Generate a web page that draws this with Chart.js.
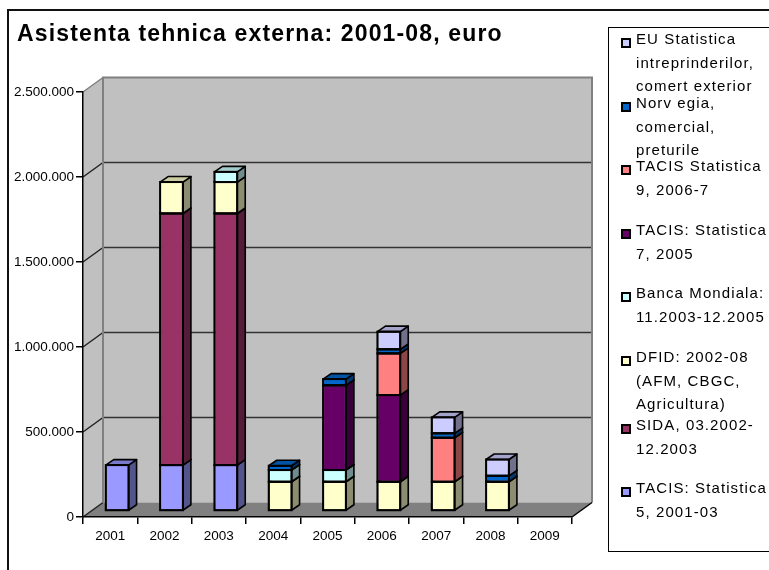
<!DOCTYPE html>
<html>
<head>
<meta charset="utf-8">
<script src="https://cdn.jsdelivr.net/npm/chart.js@4.4.1/dist/chart.umd.min.js"></script>
<style>
  html, body { margin: 0; padding: 0; background: #fff; }
  #wrap { position: relative; width: 769px; height: 570px; overflow: hidden; }
  canvas { position: absolute; left: 0; top: 0; }
  .title { position: absolute; left: 17px; top: 22px; font: bold 23px "Liberation Sans", Arial, sans-serif; line-height: 23px; letter-spacing: 1.15px; white-space: nowrap; color: #000; }
  .legend { position: absolute; left: 608px; top: 27px; width: 200px; height: 525px; border: 1px solid #000; box-sizing: border-box; }
  .entry { position: absolute; left: 636px; font: 15px "Liberation Sans", Arial, sans-serif; line-height: 23.5px; letter-spacing: 1.1px; white-space: nowrap; color: #000; }
  .mark { position: absolute; left: 621px; width: 10px; height: 10px; box-sizing: border-box; border: 2px solid #000; }
</style>
</head>
<body>
<div id="wrap">
  <canvas id="c" width="769" height="570"></canvas>
  <div class="title">Asistenta tehnica externa: 2001-08, euro</div>
  <div class="legend"></div>
  <div id="leg"></div>
</div>
<script>
// ---- data ----
const categories = ['2001', '2002', '2003', '2004', '2005', '2006', '2007', '2008', '2009'];
const tacis5  = [270000, 270000, 270000, null, null, null, null, null, null];
const sida    = [null, 1480000, 1480000, null, null, null, null, null, null];
const dfid    = [null, 185000, 185000, 172000, 172000, 172000, 172000, 172000, null];
const banca   = [null, null, 60000, 69000, 69000, null, null, null, null];
const tacis7  = [null, null, null, null, 498000, 510000, null, null, null];
const tacis9  = [null, null, null, null, null, 245000, 259000, null, null];
const norv    = [null, null, null, 25000, 37000, 24000, 26000, 35000, null];
const eu      = [null, null, null, null, null, 104000, 94000, 96000, null];
const yTicks  = [0, 500000, 1000000, 1500000, 2000000, 2500000];

const seriesNames = [
  ['TACIS: Statistica', '5, 2001-03'],
  ['SIDA, 03.2002-', '12.2003'],
  ['DFID: 2002-08', '(AFM, CBGC,', 'Agricultura)'],
  ['Banca Mondiala:', '11.2003-12.2005'],
  ['TACIS: Statistica', '7, 2005'],
  ['TACIS Statistica', '9, 2006-7'],
  ['Norv egia,', 'comercial,', 'preturile'],
  ['EU Statistica', 'intreprinderilor,', 'comert exterior']
];
const seriesData = [tacis5, sida, dfid, banca, tacis7, tacis9, norv, eu];
const colors = ['#9999FF', '#993366', '#FFFFCC', '#CCFFFF', '#660066', '#FF8080', '#0066CC', '#CCCCFF'];
const legendCenters = [488, 425, 357, 293, 230, 166, 103, 39];

// ---- helpers ----
function shade(hex, f) {
  const n = parseInt(hex.slice(1), 16);
  const r = Math.round(((n >> 16) & 255) * f), g = Math.round(((n >> 8) & 255) * f), b = Math.round((n & 255) * f);
  return 'rgb(' + r + ',' + g + ',' + b + ')';
}
function fmt(v) { return String(v).replace(/\B(?=(\d{3})+(?!\d))/g, '.'); }

const WALL_DX = 20, WALL_DY = -14.5;   // depth of the 3D box
const BAR_OX = 7, BAR_OY = -6;         // front face of bars inside the box
const BAR_DX = 8, BAR_DY = -5.5;       // bar depth

function barRects(chart, cb) {
  chart.data.datasets.forEach((ds, i) => {
    const meta = chart.getDatasetMeta(i);
    meta.data.forEach((el, j) => {
      if (ds.data[j] == null) return;
      const p = el.getProps(['x', 'y', 'base', 'width'], true);
      cb(i, p.x - p.width / 2, p.x + p.width / 2, Math.min(p.y, p.base), Math.max(p.y, p.base));
    });
  });
}

const box3d = {
  id: 'box3d',
  beforeDraw(chart) {
    const ctx = chart.ctx, xs = chart.scales.x, ys = chart.scales.y;
    const L = xs.left, R = xs.right;
    const y0 = ys.getPixelForValue(ys.min), yM = ys.getPixelForValue(ys.max);
    ctx.save();
    // outer frame
    ctx.fillStyle = '#111';
    ctx.fillRect(7, 9, 2, 600);
    ctx.fillRect(7, 9, 800, 2);
    // left wall
    ctx.fillStyle = '#C0C0C0';
    ctx.beginPath();
    ctx.moveTo(L, y0); ctx.lineTo(L + WALL_DX, y0 + WALL_DY);
    ctx.lineTo(L + WALL_DX, yM + WALL_DY); ctx.lineTo(L, yM); ctx.closePath(); ctx.fill();
    // back wall
    ctx.fillRect(L + WALL_DX, yM + WALL_DY, R - L, y0 - yM);
    // floor
    ctx.fillStyle = '#808080';
    ctx.beginPath();
    ctx.moveTo(L, y0); ctx.lineTo(R, y0); ctx.lineTo(R + WALL_DX, y0 + WALL_DY);
    ctx.lineTo(L + WALL_DX, y0 + WALL_DY); ctx.closePath(); ctx.fill();
    // gridlines
    ctx.lineWidth = 1.5;
    yTicks.forEach(v => {
      const y = ys.getPixelForValue(v);
      if (v > ys.min && v < ys.max) {
        ctx.strokeStyle = '#333';
        ctx.beginPath(); ctx.moveTo(L + WALL_DX, y + WALL_DY); ctx.lineTo(R + WALL_DX, y + WALL_DY); ctx.stroke();
      }
      ctx.strokeStyle = (v === ys.max) ? '#808080' : '#222';
      ctx.beginPath(); ctx.moveTo(L, y); ctx.lineTo(L + WALL_DX, y + WALL_DY); ctx.stroke();
    });
    // wall edges
    ctx.strokeStyle = '#808080';
    ctx.lineWidth = 2;
    ctx.beginPath();
    ctx.moveTo(L + WALL_DX, y0 + WALL_DY); ctx.lineTo(L + WALL_DX, yM + WALL_DY);
    ctx.lineTo(R + WALL_DX, yM + WALL_DY); ctx.lineTo(R + WALL_DX, y0 + WALL_DY);
    ctx.stroke();
    // floor right edge
    ctx.strokeStyle = '#000';
    ctx.lineWidth = 1.5;
    ctx.beginPath(); ctx.moveTo(R, y0); ctx.lineTo(R + WALL_DX, y0 + WALL_DY); ctx.stroke();
    ctx.restore();
  },
  beforeDatasetsDraw(chart) {
    const ctx = chart.ctx;
    ctx.save();
    ctx.translate(BAR_OX, BAR_OY);
    ctx.lineWidth = 1.6;
    ctx.strokeStyle = '#000';
    ctx.lineJoin = 'round';
    barRects(chart, (i, x0, x1, yt, yb) => {
      // side face
      ctx.fillStyle = shade(colors[i], 0.55);
      ctx.beginPath();
      ctx.moveTo(x1, yb); ctx.lineTo(x1 + BAR_DX, yb + BAR_DY);
      ctx.lineTo(x1 + BAR_DX, yt + BAR_DY); ctx.lineTo(x1, yt); ctx.closePath();
      ctx.fill(); ctx.stroke();
      // top face
      ctx.fillStyle = shade(colors[i], 0.8);
      ctx.beginPath();
      ctx.moveTo(x0, yt); ctx.lineTo(x1, yt);
      ctx.lineTo(x1 + BAR_DX, yt + BAR_DY); ctx.lineTo(x0 + BAR_DX, yt + BAR_DY); ctx.closePath();
      ctx.fill(); ctx.stroke();
    });
    // translation stays active while the library draws the front faces
  },
  afterDatasetsDraw(chart) {
    const ctx = chart.ctx;
    ctx.lineWidth = 2;
    ctx.strokeStyle = '#000';
    ctx.lineJoin = 'miter';
    barRects(chart, (i, x0, x1, yt, yb) => {
      ctx.strokeRect(x0, yt, x1 - x0, yb - yt);
    });
    ctx.restore();
  }
};

const datasets = seriesData.map((d, i) => ({
  label: seriesNames[i].join(' '),
  data: d,
  backgroundColor: colors[i],
  borderColor: '#000',
  borderWidth: 1,
  borderSkipped: false,
  barPercentage: 0.42,
  categoryPercentage: 1
}));

new Chart(document.getElementById('c'), {
  type: 'bar',
  data: { labels: categories, datasets },
  plugins: [box3d],
  options: {
    responsive: false,
    animation: false,
    events: [],
    layout: { padding: { top: 92, right: 197, left: 0, bottom: 0 } },
    plugins: { legend: { display: false }, tooltip: { enabled: false }, title: { display: false } },
    scales: {
      x: {
        stacked: true,
        offset: true,
        afterFit(s) { s.height = 53; },
        grid: { drawOnChartArea: false, drawTicks: true, tickLength: 7, color: '#000', lineWidth: 1.5, offset: true },
        border: { display: true, color: '#000', width: 1.5 },
        ticks: { color: '#000', font: { family: '"Liberation Sans", Arial, sans-serif', size: 13.5 }, padding: 4, maxRotation: 0 }
      },
      y: {
        stacked: true,
        min: 0,
        max: 2500000,
        afterFit(s) { s.width = 83; },
        afterBuildTicks(s) { s.ticks = yTicks.map(v => ({ value: v })); },
        grid: { drawOnChartArea: false, drawTicks: true, tickLength: 7, color: '#000', lineWidth: 1.5 },
        border: { display: true, color: '#000', width: 1.5 },
        ticks: { color: '#000', font: { family: '"Liberation Sans", Arial, sans-serif', size: 13.5 }, padding: 2, callback: v => fmt(v) }
      }
    }
  }
});

// ---- legend (HTML text) ----
const leg = document.getElementById('leg');
seriesNames.forEach((lines, i) => {
  const c = legendCenters[i];
  const m = document.createElement('div');
  m.className = 'mark';
  m.style.top = (c - 1) + 'px';
  m.style.background = colors[i];
  leg.appendChild(m);
  const t = document.createElement('div');
  t.className = 'entry';
  t.style.top = (c - 11.6) + 'px';
  t.innerHTML = lines.join('<br>');
  leg.appendChild(t);
});
</script>
</body>
</html>
